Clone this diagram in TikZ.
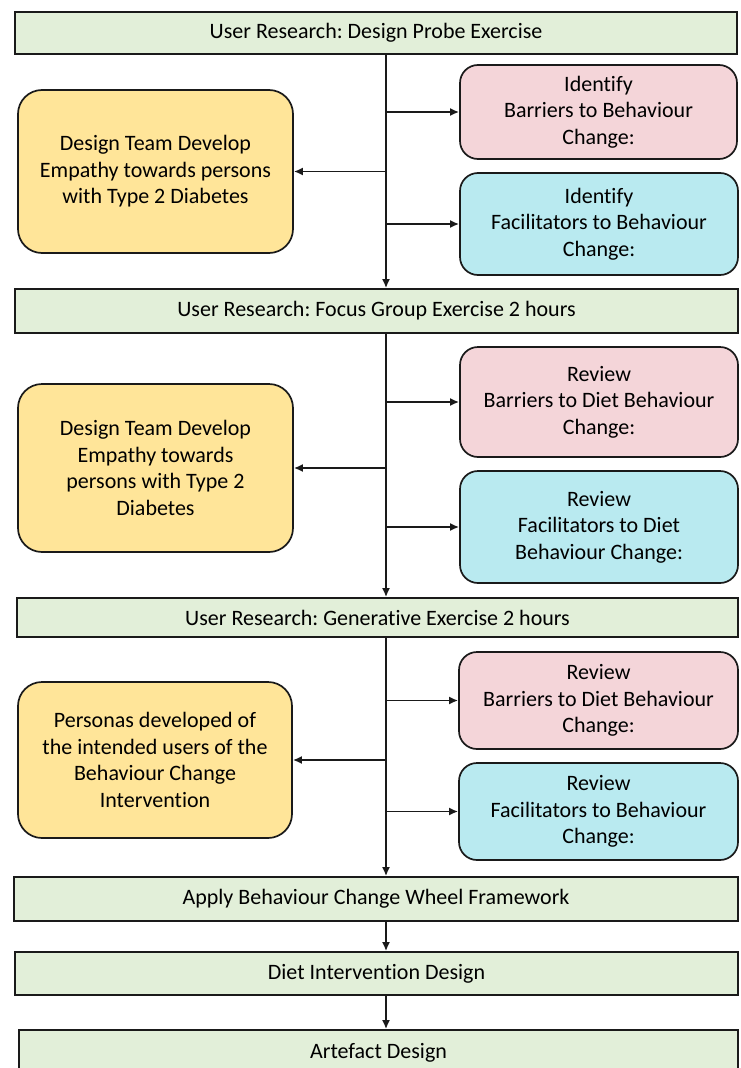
\documentclass[tikz,border=0pt]{standalone}
\usepackage{fontspec}
\setmainfont{Carlito}[Ligatures=NoCommon]
\usetikzlibrary{arrows.meta}
\frenchspacing
\definecolor{stagefill}{HTML}{E2EFD9}
\definecolor{insightfill}{HTML}{FFE599}
\definecolor{barrierfill}{HTML}{F4D5D9}
\definecolor{facilfill}{HTML}{B9EAF0}
\definecolor{edge}{HTML}{1A1A1A}
\begin{document}
\begin{tikzpicture}[x=1pt,y=-1pt,
  box/.style={draw=edge, line width=1.7pt, inner sep=0pt, align=center,
    font=\fontsize{22}{26.5}\selectfont},
  stage/.style={box, fill=stagefill},
  insight/.style={box, fill=insightfill, rounded corners=24pt},
  barrier/.style={box, fill=barrierfill, rounded corners=18pt},
  facil/.style={box, fill=facilfill, rounded corners=18pt},
  arr/.style={draw=edge, line width=1.9pt, -{Latex[length=9pt,width=8pt]}}]
\useasboundingbox (0,0) rectangle (740,1068);

% main stages
\node[stage, minimum width=722pt, minimum height=42pt] (s1) at (376,33) {User Research: Design Probe Exercise};
\node[stage, minimum width=723pt, minimum height=44pt] (s2) at (376.5,311) {User Research: Focus Group Exercise 2 hours};
\node[stage, minimum width=721pt, minimum height=39pt] (s3) at (377.5,617.5) {User Research: Generative Exercise 2 hours};
\node[stage, minimum width=724pt, minimum height=44pt] (s4) at (376,899) {Apply Behaviour Change Wheel Framework};
\node[stage, minimum width=723pt, minimum height=43pt] (s5) at (376.5,973.5) {Diet Intervention Design};
\node[stage, minimum width=719pt, minimum height=46pt] (s6) at (378.5,1053) {Artefact Design};

% outputs of the design probe exercise
\node[insight, minimum width=275pt, minimum height=163pt] (y1) at (155.5,171.5) {Design Team Develop\\Empathy towards persons\\with Type 2 Diabetes};
\node[barrier, minimum width=277pt, minimum height=94pt] (p1) at (598.5,112) {Identify\\Barriers to Behaviour\\Change:};
\node[facil, minimum width=278pt, minimum height=102pt] (c1) at (599,224) {Identify\\Facilitators to Behaviour\\Change:};

% outputs of the focus group exercise
\node[insight, minimum width=275pt, minimum height=168pt] (y2) at (155.5,468) {Design Team Develop\\Empathy towards\\persons with Type 2\\Diabetes};
\node[barrier, minimum width=278pt, minimum height=110pt] (p2) at (599,402) {Review\\Barriers to Diet Behaviour\\Change:};
\node[facil, minimum width=278pt, minimum height=112pt] (c2) at (599,527) {Review\\Facilitators to Diet\\Behaviour Change:};

% outputs of the generative exercise
\node[insight, minimum width=274pt, minimum height=156pt] (y3) at (155,760) {Personas developed of\\the intended users of the\\Behaviour Change\\Intervention};
\node[barrier, minimum width=279pt, minimum height=97pt] (p3) at (598.5,700.5) {Review\\Barriers to Diet Behaviour\\Change:};
\node[facil, minimum width=279pt, minimum height=97pt] (c3) at (598.5,811.5) {Review\\Facilitators to Behaviour\\Change:};

% trunk line position
\coordinate (tr) at (386,0);

% vertical flow
\draw[arr] (s1.south -| tr) -- (s2.north -| tr);
\draw[arr] (s2.south -| tr) -- (s3.north -| tr);
\draw[arr] (s3.south -| tr) -- (s4.north -| tr);
\draw[arr] (s4.south -| tr) -- (s5.north -| tr);
\draw[arr] (s5.south -| tr) -- (s6.north -| tr);

% side branches
\foreach \n in {p1,c1,p2,c2,p3,c3}
  \draw[arr] (\n.west -| tr) -- (\n.west);
\foreach \n in {y1,y2,y3}
  \draw[arr] (\n.east -| tr) -- (\n.east);
\end{tikzpicture}
\end{document}
